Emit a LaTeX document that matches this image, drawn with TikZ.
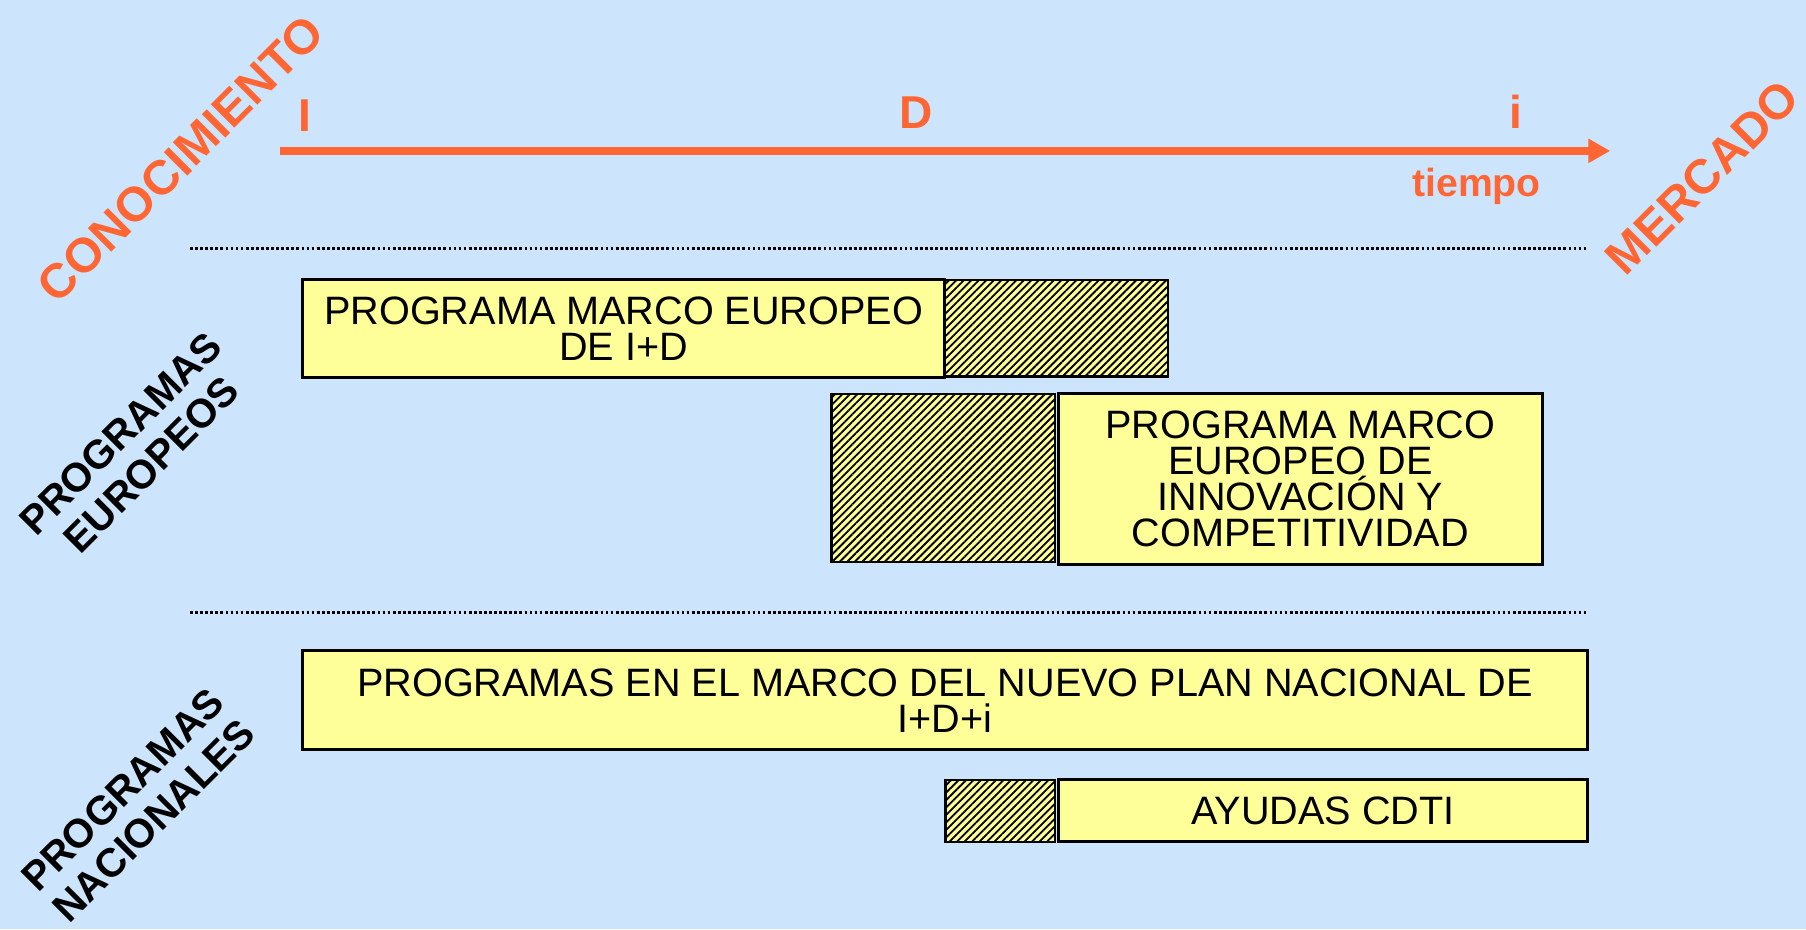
\documentclass[tikz,border=0pt]{standalone}
\usepackage{fontspec}
\setmainfont{Liberation Sans}
\usetikzlibrary{arrows.meta,patterns.meta}
\definecolor{bgblue}{RGB}{204,229,253}
\definecolor{boxyellow}{RGB}{255,255,153}
\definecolor{axisorange}{RGB}{255,102,51}
\tikzset{
    every node/.style={inner sep=0pt, outer sep=0pt}
}
\tikzset{
    prog/.style={draw, line width=1.3pt, fill=boxyellow, anchor=north west,
    	align=center, font=\fontsize{17.2}{15.6}\selectfont},
    hatchbox/.style={draw, line width=1pt, anchor=north west,
    	preaction={fill=boxyellow},
    	pattern={Lines[angle=45,distance=2.3pt,line width=0.8pt]},
    	pattern color=black}
}
\tikzset{
    stage/.style={text=axisorange, font=\bfseries\fontsize{20}{24}\selectfont},
    pole/.style={text=axisorange, rotate=45,
    	font=\bfseries\fontsize{21}{25}\selectfont},
    grouplabel/.style={rotate=45, align=center,
    	font=\bfseries\fontsize{17.5}{19}\selectfont},
    timeline/.style={axisorange, line width=3.3pt,
    	-{Triangle[length=9.5pt,width=10pt]}},
    divider/.style={line width=1.3pt, dash pattern=on 1.2pt off 1pt}
}

\begin{document}
\begin{tikzpicture}[x=0.5pt, y=-0.5pt]
	\path[use as bounding box, fill=bgblue] (0,0) rectangle (1568,807);

	% eje del tiempo
	\coordinate (t0) at (243,131);
	\coordinate (t1) at (1398,131);
	\node (I) [stage] at (265,100) {I};
	\node (D) [stage] at (795,98) {D};
	\node (i) [stage] at (1316,97) {i};
	\node (tiempo) [text=axisorange, anchor=base,
		font=\bfseries\fontsize{17}{20}\selectfont] at (1282,171) {tiempo};
	\node (con) [pole] at (157,138) {CONOCIMIENTO};
	\node (mer) [pole] at (1478,154) {MERCADO};

	% separadores
	\coordinate (s1a) at (165,216); \coordinate (s1b) at (1378,216);
	\coordinate (s2a) at (165,532); \coordinate (s2b) at (1378,532);

	\node (eur) [grouplabel] at (118,390) {PROGRAMAS\\EUROPEOS};
	\node (nac) [grouplabel] at (120,699) {PROGRAMAS\\NACIONALES};

	% programas
	\node (1) [prog, minimum width=278.5pt, minimum height=42.5pt]
		at (263,243) {PROGRAMA MARCO EUROPEO\\DE I+D};
	\node (2) [hatchbox, minimum width=97pt, minimum height=42pt]
		at (820,243) {};
	\node (3) [hatchbox, minimum width=97pt, minimum height=73pt]
		at (722,342) {};
	\node (4) [prog, minimum width=210pt, minimum height=74pt]
		at (919,342) {PROGRAMA MARCO\\EUROPEO DE\\INNOVACIÓN Y\\COMPETITIVIDAD};
	\node (5) [prog, minimum width=557.5pt, minimum height=43pt]
		at (263,565) {PROGRAMAS EN EL MARCO DEL NUEVO PLAN NACIONAL DE\\I+D+i};
	\node (6) [hatchbox, minimum width=47.5pt, minimum height=27pt]
		at (821,677) {};
	\node (7) [prog, minimum width=229.5pt, minimum height=27pt]
		at (919,677) {AYUDAS CDTI};

	\draw[timeline] (t0) -- (t1);
	\draw[divider] (s1a) -- (s1b); \draw[divider] (s2a) -- (s2b);
\end{tikzpicture}
\end{document}
